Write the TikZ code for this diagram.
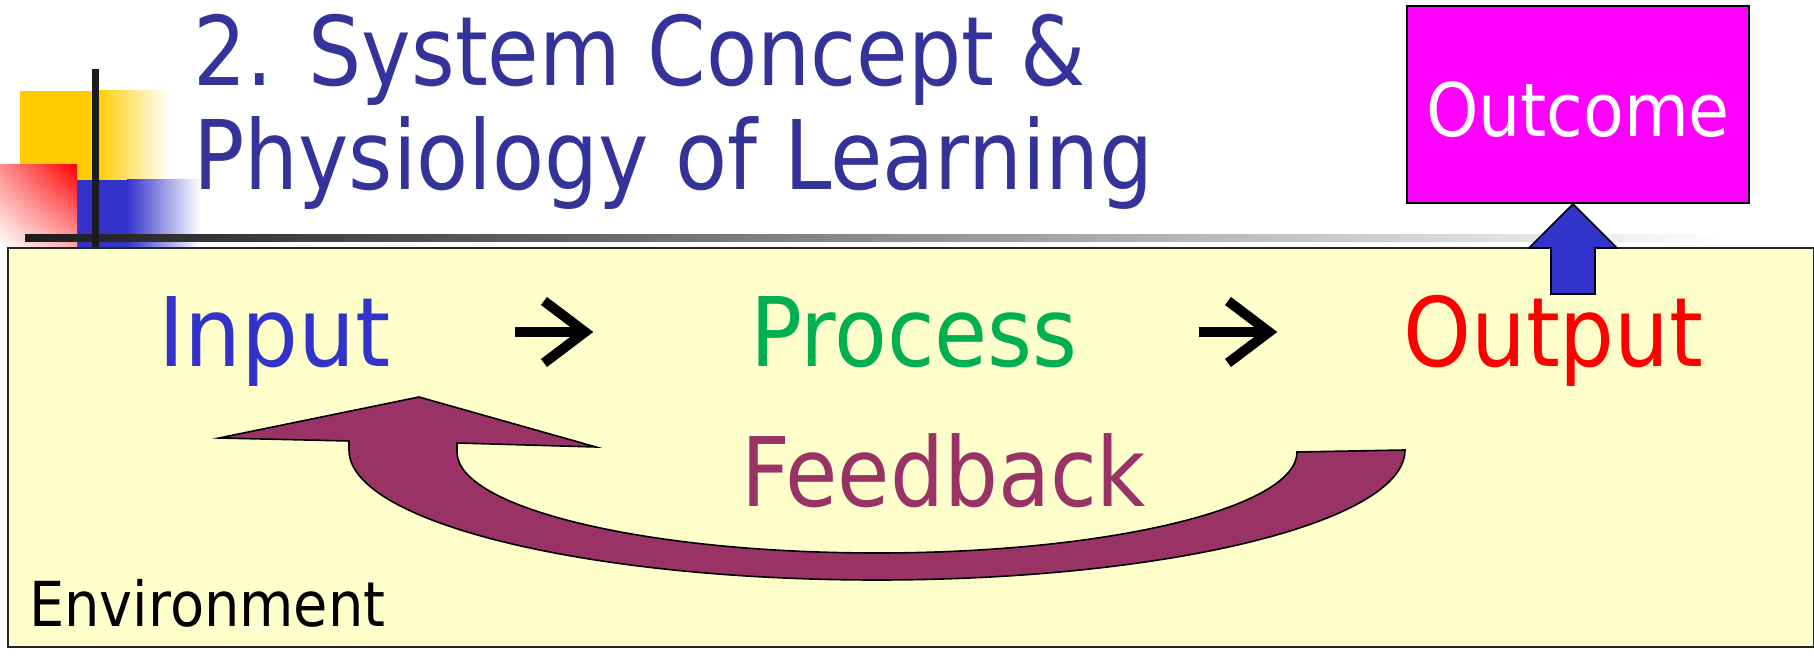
\documentclass[tikz,border=0pt]{standalone}
\usepackage{fontspec}
\usetikzlibrary{shadings}
\newfontfamily\tah{DejaVu Sans Condensed}
\definecolor{titleblue}{HTML}{333399}
\definecolor{inputblue}{HTML}{3333CC}
\definecolor{procgreen}{HTML}{00B050}
\definecolor{outred}{HTML}{FF0000}
\definecolor{fbcolor}{HTML}{993366}
\definecolor{envfill}{HTML}{FFFFCC}
\definecolor{outcomefill}{HTML}{FF00FF}
\definecolor{decoyellow}{HTML}{FFCC00}
\definecolor{decoblue}{HTML}{3333CC}
\definecolor{decoline}{HTML}{1C1C1C}
\tikzset{
  titletext/.style={font=\tah\fontsize{48}{56}\selectfont, text=titleblue, inner sep=0pt, anchor=base west},
  rowtext/.style={font=\tah\fontsize{48}{56}\selectfont, inner sep=0pt, anchor=base west},
  envbox/.style={draw=black!85, line width=1pt, fill=envfill, inner sep=0pt, anchor=north west},
  envtext/.style={font=\tah\fontsize{31}{36}\selectfont, text=black, inner sep=0pt, anchor=base west},
  outcomebox/.style={draw=black, line width=1pt, fill=outcomefill, text=white, inner sep=0pt,
    font=\tah\fontsize{37}{44}\selectfont},
  bluearrow/.style={draw=black, line width=0.8pt, fill=inputblue, line join=miter},
  fbarrow/.style={draw=black, line width=0.8pt, fill=fbcolor, line join=miter},
  chevshaft/.style={draw=black, line width=5pt},
  chevhead/.style={draw=black, line width=5pt, line join=miter, miter limit=10},
}
\begin{document}
\begin{tikzpicture}[x=0.5pt,y=-0.5pt]
\useasboundingbox (0,0) rectangle (1814,656);
% title decoration
\fill[decoyellow] (20,91) rectangle (98,180);
\shade[left color=decoyellow, right color=white] (97,91) rectangle (168,180);
\fill[decoblue] (77,180) rectangle (128,247);
\shade[left color=decoblue, right color=white] (127,180) rectangle (200,247);
\shade[upper right=red, lower left=white, upper left=red!45!white, lower right=red!35!white] (0,165) rectangle (77,247);
\shade[left color=decoline, right color=white] (25,235) rectangle (1730,242);
\fill[decoline] (92,69) rectangle (99,247);
% title
\node[titletext] (title1) at (193,86) {\scalebox{0.97}[1]{2. System Concept \&}};
\node[titletext] (title2) at (193,190) {\scalebox{0.985}[1]{Physiology of Learning}};
% environment
\node[envbox, minimum width=903pt, minimum height=199.5pt] (env) at (7,247) {};
\node[envtext] (envlabel) at (29,627) {Environment};
% outcome
\node[outcomebox, minimum width=171pt, minimum height=98.5pt] (outcome) at (1578,104.5) {\raisebox{-16.25pt}[0pt][0pt]{Outcome}};
% row
\node[rowtext, text=inputblue] (input) at (158,367) {\scalebox{1.04}[1]{Input}};
\node[rowtext, text=procgreen] (process) at (750,367) {Process};
\node[rowtext, text=outred] (output) at (1403,367) {Output};
\node[rowtext, text=fbcolor] (feedback) at (741,507) {\scalebox{0.985}[1]{Feedback}};
% chevron arrows
\coordinate (c1s) at (515,332);
\coordinate (c1e) at (585,332);
\coordinate (c2s) at (1199,332);
\coordinate (c2e) at (1269,332);
\draw[chevshaft] (c1s) -- (c1e);
\draw[chevhead] ([shift={(-41,-31)}]c1e) -- (c1e) -- ([shift={(-41,31)}]c1e);
\draw[chevshaft] (c2s) -- (c2e);
\draw[chevhead] ([shift={(-41,-31)}]c2e) -- (c2e) -- ([shift={(-41,31)}]c2e);
% output -> outcome arrow
\draw[bluearrow] ([xshift=-2.5pt]outcome.south) -- ++(44,44) -- ++(-22,0) -- ++(0,46) -- ++(-44,0) -- ++(0,-46) -- ++(-22,0) -- cycle;
% feedback arrow
\draw[fbarrow] (1405,450) arc[start angle=0, end angle=180, x radius=528, y radius=130]
  -- (349,441) -- (219,438) -- (419,397) -- (596,447) -- (457,443) -- (457,452)
  arc[start angle=180, end angle=0, x radius=420, y radius=101] -- cycle;
\end{tikzpicture}
\end{document}
